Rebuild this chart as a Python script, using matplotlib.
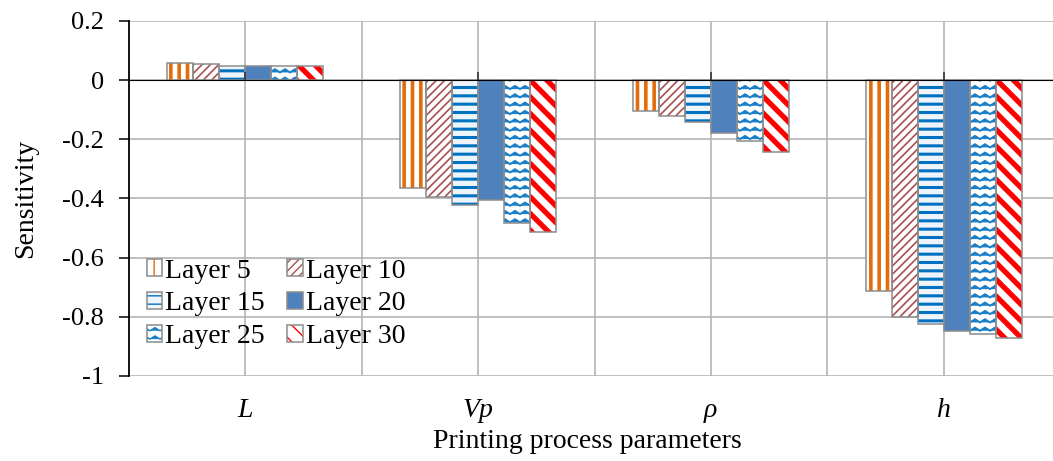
import warnings
warnings.filterwarnings("ignore")
import numpy as np
import matplotlib
matplotlib.use("Agg")
import matplotlib.pyplot as plt
import matplotlib.hatch as mhatch
from matplotlib.path import Path

# ---------------- data ----------------
categories = ['L', 'Vp', 'ρ', 'h']
series_names = ['Layer 5', 'Layer 10', 'Layer 15', 'Layer 20', 'Layer 25', 'Layer 30']
layer5 = [0.057, -0.365, -0.104, -0.714]
layer10 = [0.056, -0.394, -0.122, -0.802]
layer15 = [0.047, -0.422, -0.142, -0.825]
layer20 = [0.047, -0.404, -0.177, -0.847]
layer25 = [0.048, -0.482, -0.204, -0.859]
layer30 = [0.048, -0.512, -0.244, -0.870]
yticks = [0.2, 0, -0.2, -0.4, -0.6, -0.8, -1]
ytick_labels = ['0.2', '0', '-0.2', '-0.4', '-0.6', '-0.8', '-1']


# ------------- custom wavy hatch ('z') -------------
class ZigZagHatch(mhatch.HatchPatternBase):
    periods = 10

    def __init__(self, hatch, density):
        self.num_lines = int(hatch.count('z') * density)
        self.num_vertices = self.num_lines * (2 * self.periods + 1)

    def set_vertices_and_codes(self, vertices, codes):
        npts = 2 * self.periods + 1
        steps, stepsize = np.linspace(0.0, 1.0, self.num_lines, False, retstep=True)
        steps += stepsize / 2.
        xs = np.linspace(0.0, 1.0, npts)
        amp = np.where(np.arange(npts) % 2 == 0, -0.016, 0.016)
        for i, y in enumerate(steps):
            sl = slice(i * npts, (i + 1) * npts)
            vertices[sl, 0] = xs
            vertices[sl, 1] = y + amp
            codes[sl] = Path.LINETO
            codes[i * npts] = Path.MOVETO


mhatch._hatch_types.append(ZigZagHatch)

plt.rcParams['font.family'] = ['Liberation Serif', 'DejaVu Serif']
plt.rcParams['axes.unicode_minus'] = False
FS = 20

fig = plt.figure(figsize=(10.53, 4.61), dpi=100)
ax = fig.add_axes([129 / 1053, 1 - 376 / 461, 931 / 1053, 355 / 461])

x = np.arange(len(categories))
w = 0.1116
all_series = [layer5, layer10, layer15, layer20, layer25, layer30]
styles = [
    dict(face='white', hcol='#E46C0A', hatch='||', hlw=2.6),
    dict(face='white', hcol='#A8504E', hatch='////', hlw=1.2),
    dict(face='#EEF4FB', hcol='#0070C0', hatch='--', hlw=2.2),
    dict(face='#4F81BD', hcol='#4F81BD', hatch=None, hlw=1.0),
    dict(face='white', hcol='#1A7FC8', hatch='zz', hlw=1.4),
    dict(face='white', hcol='#FF0000', hatch='\\\\', hlw=3.8),
]
EDGE = '#8C8C8C'
handles = []
for i, (vals, st) in enumerate(zip(all_series, styles)):
    pos = x + (i - 2.5) * w
    with plt.rc_context({'hatch.linewidth': st['hlw']}):
        b1 = ax.bar(pos, vals, w, color=st['face'], edgecolor=st['hcol'],
                    hatch=st['hatch'], linewidth=0, zorder=2)
    for p in b1.patches:
        if hasattr(p, 'set_hatch_linewidth'):
            p.set_hatch_linewidth(st['hlw'])
    b2 = ax.bar(pos, vals, w, fill=False, edgecolor=EDGE, linewidth=1.1, zorder=3)
    handles.append((b1.patches[0], b2.patches[0]))

ax.set_xlim(-0.5, 3.5)
ax.set_ylim(-1, 0.2)
ax.set_yticks(yticks)
ax.set_yticklabels(ytick_labels, fontsize=19)
ax.set_xticks(x)
ax.set_xticklabels(categories, fontsize=FS, fontstyle='italic')
ax.set_xticks(x[:-1] + 0.5, minor=True)
ax.tick_params(axis='x', which='both', length=0, pad=16)
ax.tick_params(axis='y', direction='out', length=7, width=1.1, color='black', pad=11)

ax.set_axisbelow(True)
ax.grid(True, which='both', color='#B4B4B4', linewidth=1.2)
for s in ['top', 'right', 'bottom']:
    ax.spines[s].set_visible(False)
ax.spines['left'].set_color('black')
ax.spines['left'].set_linewidth(1.3)

# zero line with small ticks at category centres
sec = ax.secondary_xaxis(1 / 1.2)
sec.set_xticks(x)
sec.set_xticklabels([])
sec.tick_params(direction='out', length=6, width=1.2, color='#333333')
sec.spines['bottom'].set_color('black')
sec.spines['bottom'].set_linewidth(1.4)
sec.set_zorder(4)

ax.set_ylabel('Sensitivity', fontsize=FS)
ax.yaxis.set_label_coords(-(129 - 38) / 931, 0.5)
ax.set_xlabel('Printing process parameters', fontsize=FS)
ax.xaxis.set_label_coords((587 - 129) / 931, -(429 - 376) / 355)

# row-major legend order (matplotlib fills legends column by column)
order = [0, 2, 4, 1, 3, 5]
leg = ax.legend([handles[k] for k in order], [series_names[k] for k in order],
                ncol=2, loc='upper left',
                bbox_to_anchor=((146 - 129) / 931 - 0.008, 0.354), frameon=False,
                fontsize=FS, handlelength=0.55, handleheight=0.55,
                handletextpad=0.12, columnspacing=0.8, labelspacing=0.28,
                borderaxespad=0.0, borderpad=0.3)

fig.savefig('out.png', dpi=100)
